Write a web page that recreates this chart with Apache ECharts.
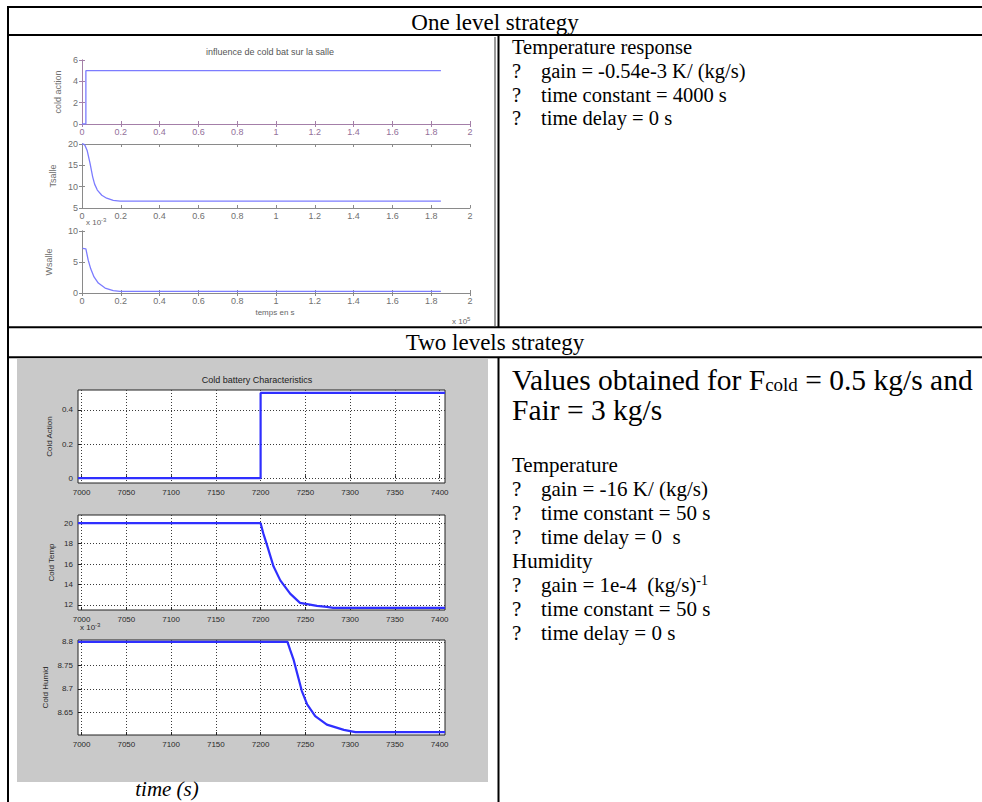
<!DOCTYPE html>
<html><head><meta charset="utf-8">
<script src="https://cdn.jsdelivr.net/npm/echarts@6/dist/echarts.min.js"></script>
<style>html,body{margin:0;padding:0;background:#fff;}#main{width:982px;height:802px;}</style>
</head><body><div id="main"></div>
<script>
// ---------- One level strategy (time axis in units of 1e5 s) ----------
const oneActionTime  = [0, 0.02, 0.02, 1.85];
const oneActionValue = [0, 0, 5, 5];
const oneTsalleTime  = [0, 0.008, 0.015, 0.027, 0.041, 0.055, 0.065, 0.079, 0.102, 0.127, 0.161, 0.196, 1.85];
const oneTsalleValue = [20, 20, 19.7, 18.4, 15.6, 12.3, 10.6, 9.2, 8.0, 7.3, 6.8, 6.6, 6.6];
const oneWsalleTime  = [0.003, 0.02, 0.032, 0.045, 0.062, 0.084, 0.119, 0.161, 0.196, 1.85];
const oneWsalleValue = [7.2, 7.1, 5.3, 3.9, 2.6, 1.6, 0.8, 0.37, 0.26, 0.25];
const oneYLabels = ['cold action', 'Tsalle', 'Wsalle'];

// ---------- Two levels strategy (time in s, humidity x 1e-3) ----------
const twoActionTime  = [6996, 7200, 7200, 7406];
const twoActionValue = [0, 0, 0.5, 0.5];
const twoTempTime    = [6996, 7200, 7203, 7207, 7214.5, 7222, 7233, 7244, 7263, 7274, 7281, 7406];
const twoTempValue   = [20, 20, 19.0, 17.9, 15.75, 14.4, 13.1, 12.2, 11.9, 11.8, 11.7, 11.7];
const twoHumidTime   = [6996, 7230, 7233, 7237, 7241, 7246, 7252, 7261, 7274, 7293, 7306, 7406];
const twoHumidValue  = [8.8, 8.8, 8.783, 8.761, 8.732, 8.696, 8.667, 8.642, 8.624, 8.613, 8.608, 8.608];
const twoXTicks      = [7000, 7050, 7100, 7150, 7200, 7250, 7300, 7350, 7400];
const twoActionTicks = [0, 0.2, 0.4];
const twoTempTicks   = [12, 14, 16, 18, 20];
const twoHumidTicks  = [8.65, 8.7, 8.75, 8.8];
const twoYLabels     = ['Cold Action', 'Cold Temp', 'Cold Humid'];

const serif = '"Liberation Serif","Times New Roman",serif';
const sans = '"Liberation Sans",Arial,sans-serif';
const pairs = (t, v) => t.map((x, i) => [x, v[i]]);

const grids = [], xAxes = [], yAxes = [], series = [];

// ----- figure 1 -----
const f1Boxes = [{top: 60, height: 64}, {top: 144, height: 64}, {top: 231, height: 62}];
const f1Frame = ['#a47fa8', '#8a8a8a', '#8a8a8a'];
const f1Lab = ['#93709a', '#707070', '#707070'];
const f1Y = [{min: 0, max: 6, interval: 2, gap: 20}, {min: 5, max: 20, interval: 5, gap: 25}, {min: 0, max: 10, interval: 5, gap: 29}];
const f1Data = [pairs(oneActionTime, oneActionValue), pairs(oneTsalleTime, oneTsalleValue), pairs(oneWsalleTime, oneWsalleValue)];
f1Boxes.forEach((b, i) => {
  grids.push({left: 82, top: b.top, width: 388, height: b.height, show: false, outerBoundsMode: 'none'});
  const g = grids.length - 1;
  const tick = {show: true, inside: true, length: 3, lineStyle: {color: f1Frame[i], width: 1}};
  const line = {show: true, lineStyle: {color: f1Frame[i], width: 1}};
  xAxes.push({gridIndex: g, type: 'value', min: 0, max: 2, interval: 0.2, position: 'bottom',
    axisLine: line, axisTick: tick, splitLine: {show: false},
    axisLabel: {color: f1Lab[i], fontSize: 9, fontFamily: sans, margin: 3}});
  xAxes.push({gridIndex: g, type: 'value', min: 0, max: 2, interval: 0.2, position: 'top',
    axisLine: line, axisTick: tick, splitLine: {show: false}, axisLabel: {show: false}});
  yAxes.push({gridIndex: g, type: 'value', min: f1Y[i].min, max: f1Y[i].max, interval: f1Y[i].interval, position: 'left',
    axisLine: line, axisTick: tick, splitLine: {show: false},
    axisLabel: {color: '#707070', fontSize: 9, fontFamily: sans, margin: 4},
    name: oneYLabels[i], nameLocation: 'middle', nameRotate: 90, nameGap: f1Y[i].gap,
    nameTextStyle: {color: '#707070', fontSize: 9, fontFamily: sans}});
  yAxes.push({gridIndex: g, type: 'value', min: f1Y[i].min, max: f1Y[i].max, interval: f1Y[i].interval, position: 'right',
    axisLine: line, axisTick: tick, splitLine: {show: false}, axisLabel: {show: false}});
  series.push({type: 'line', xAxisIndex: xAxes.length - 2, yAxisIndex: yAxes.length - 2, data: f1Data[i],
    showSymbol: false, symbol: 'none', lineStyle: {color: '#7c7cff', width: 1.3}, silent: true});
});

// ----- figure 2 -----
const f2Boxes = [{top: 390, height: 93, min: -0.028, max: 0.517, ticks: twoActionTicks, gap: 25},
                 {top: 515, height: 95, min: 11.5, max: 20.8, ticks: twoTempTicks, gap: 23},
                 {top: 640, height: 95, min: 8.602, max: 8.804, ticks: twoHumidTicks, gap: 29}];
const f2Data = [pairs(twoActionTime, twoActionValue), pairs(twoTempTime, twoTempValue), pairs(twoHumidTime, twoHumidValue)];
const dotted = {show: true, lineStyle: {type: [1, 2], color: '#3a3a3a', width: 1}};
f2Boxes.forEach((b, i) => {
  grids.push({left: 78, top: b.top, width: 367, height: b.height, show: true, backgroundColor: '#fff',
    borderColor: '#222', borderWidth: 1, outerBoundsMode: 'none'});
  const g = grids.length - 1;
  xAxes.push({gridIndex: g, type: 'value', min: 6996, max: 7406, position: 'bottom',
    axisLine: {show: false},
    axisTick: {show: true, inside: true, length: 3, customValues: twoXTicks, lineStyle: {color: '#222'}},
    axisLabel: {customValues: twoXTicks, color: '#2a2a2a', fontSize: 8, fontFamily: sans, margin: 5,
      formatter: v => String(v)},
    splitLine: dotted});
  yAxes.push({gridIndex: g, type: 'value', min: b.min, max: b.max, position: 'left',
    axisLine: {show: false},
    axisTick: {show: true, inside: true, length: 3, customValues: b.ticks, lineStyle: {color: '#222'}},
    axisLabel: {customValues: b.ticks, color: '#2a2a2a', fontSize: 8, fontFamily: sans, margin: 5,
      formatter: v => String(Math.round(v * 100) / 100)},
    splitLine: dotted,
    name: twoYLabels[i], nameLocation: 'middle', nameRotate: 90, nameGap: b.gap,
    nameTextStyle: {color: '#2a2a2a', fontSize: 8, fontFamily: sans}});
  series.push({type: 'line', xAxisIndex: xAxes.length - 1, yAxisIndex: yAxes.length - 1, data: f2Data[i],
    showSymbol: false, symbol: 'none', lineStyle: {color: '#2f2fff', width: 2.2}, silent: true});
});

// ----- table + texts -----
const L = (x1, y1, x2, y2, w, c) => ({type: 'line', z: 100, silent: true,
  shape: {x1, y1, x2, y2}, style: {stroke: c || '#000', lineWidth: w || 2}});
const T = (x, y, text, o) => ({type: 'text', x, y, z: 100, silent: true,
  style: Object.assign({text, fill: '#000', fontSize: 20.5, fontFamily: serif, align: 'left', verticalAlign: 'middle'}, o || {})});
const big = {fontSize: 29.5, lineHeight: 29.5};
const med = {fontSize: 21, lineHeight: 24};
const sub = {fontSize: 19, lineHeight: 19, verticalAlign: 'bottom', fontFamily: serif, fill: '#000'};
const sup = {fontSize: 14, lineHeight: 14, verticalAlign: 'top', fontFamily: serif, fill: '#000'};
const bx = 512, tx = 541;

const graphic = [
  {type: 'rect', z: -10, silent: true, shape: {x: 17, y: 359, width: 471, height: 423}, style: {fill: '#c9c9c9'}},
  L(495, 37, 495, 326, 2, '#9a9a9a'),
  L(7, 7, 982, 7), L(8, 6, 8, 802), L(8, 35, 982, 35), L(8, 327.3, 982, 327.3), L(8, 357.3, 982, 357.3),
  L(498.5, 35, 498.5, 327.3), L(498.5, 357.3, 498.5, 802),
  T(495, 22, 'One level strategy', {fontSize: 23, align: 'center'}),
  T(495, 342, 'Two levels strategy', {fontSize: 23, align: 'center'}),
  // block 1
  T(bx, 47, 'Temperature response'),
  T(bx, 71, '?'), T(tx, 71, 'gain = -0.54e-3 K/ (kg/s)'),
  T(bx, 94.5, '?'), T(tx, 94.5, 'time constant = 4000 s'),
  T(bx, 118, '?'), T(tx, 118, 'time delay = 0 s'),
  // block 2
  T(bx, 379.5, 'Values obtained for F{s|cold} = 0.5 kg/s and', Object.assign({rich: {s: sub}}, big)),
  T(bx, 409.5, 'Fair = 3 kg/s', big),
  T(bx, 465, 'Temperature', med),
  T(bx, 489, '?', med), T(tx, 489, 'gain = -16 K/ (kg/s)', med),
  T(bx, 513, '?', med), T(tx, 513, 'time constant = 50 s', med),
  T(bx, 537, '?', med), T(tx, 537, 'time delay = 0  s', med),
  T(bx, 561, 'Humidity', med),
  T(bx, 585, '?', med), T(tx, 585, 'gain = 1e-4  (kg/s){p|-1}', Object.assign({rich: {p: sup}}, med)),
  T(bx, 609, '?', med), T(tx, 609, 'time constant = 50 s', med),
  T(bx, 633, '?', med), T(tx, 633, 'time delay = 0 s', med),
  T(167, 789, 'time (s)', {fontSize: 21, fontStyle: 'italic', align: 'center'}),
  // figure texts
  T(270, 52, 'influence de cold bat sur la salle', {fontSize: 9, fontFamily: sans, fill: '#555', align: 'center'}),
  T(275, 312, 'temps en s', {fontSize: 8, fontFamily: sans, fill: '#666', align: 'center'}),
  T(452, 321, 'x 10{p|5}', {fontSize: 8, fontFamily: sans, fill: '#666', lineHeight: 10,
    rich: {p: {fontSize: 6, lineHeight: 6, verticalAlign: 'top', fill: '#666', fontFamily: sans}}}),
  T(86, 222, 'x 10{p|-3}', {fontSize: 8, fontFamily: sans, fill: '#666', lineHeight: 10,
    rich: {p: {fontSize: 6, lineHeight: 6, verticalAlign: 'top', fill: '#666', fontFamily: sans}}}),
  T(257, 380, 'Cold battery Characteristics', {fontSize: 9, fontFamily: sans, fill: '#222', align: 'center'}),
  T(80, 627, 'x 10{p|-3}', {fontSize: 8, fontFamily: sans, fill: '#2a2a2a', lineHeight: 10,
    rich: {p: {fontSize: 6, lineHeight: 6, verticalAlign: 'top', fill: '#2a2a2a', fontFamily: sans}}})
];

const chart = echarts.init(document.getElementById('main'), null, {renderer: 'svg', width: 982, height: 802});
chart.setOption({animation: false, backgroundColor: '#fff', grid: grids, xAxis: xAxes, yAxis: yAxes, series, graphic});
</script></body></html>
